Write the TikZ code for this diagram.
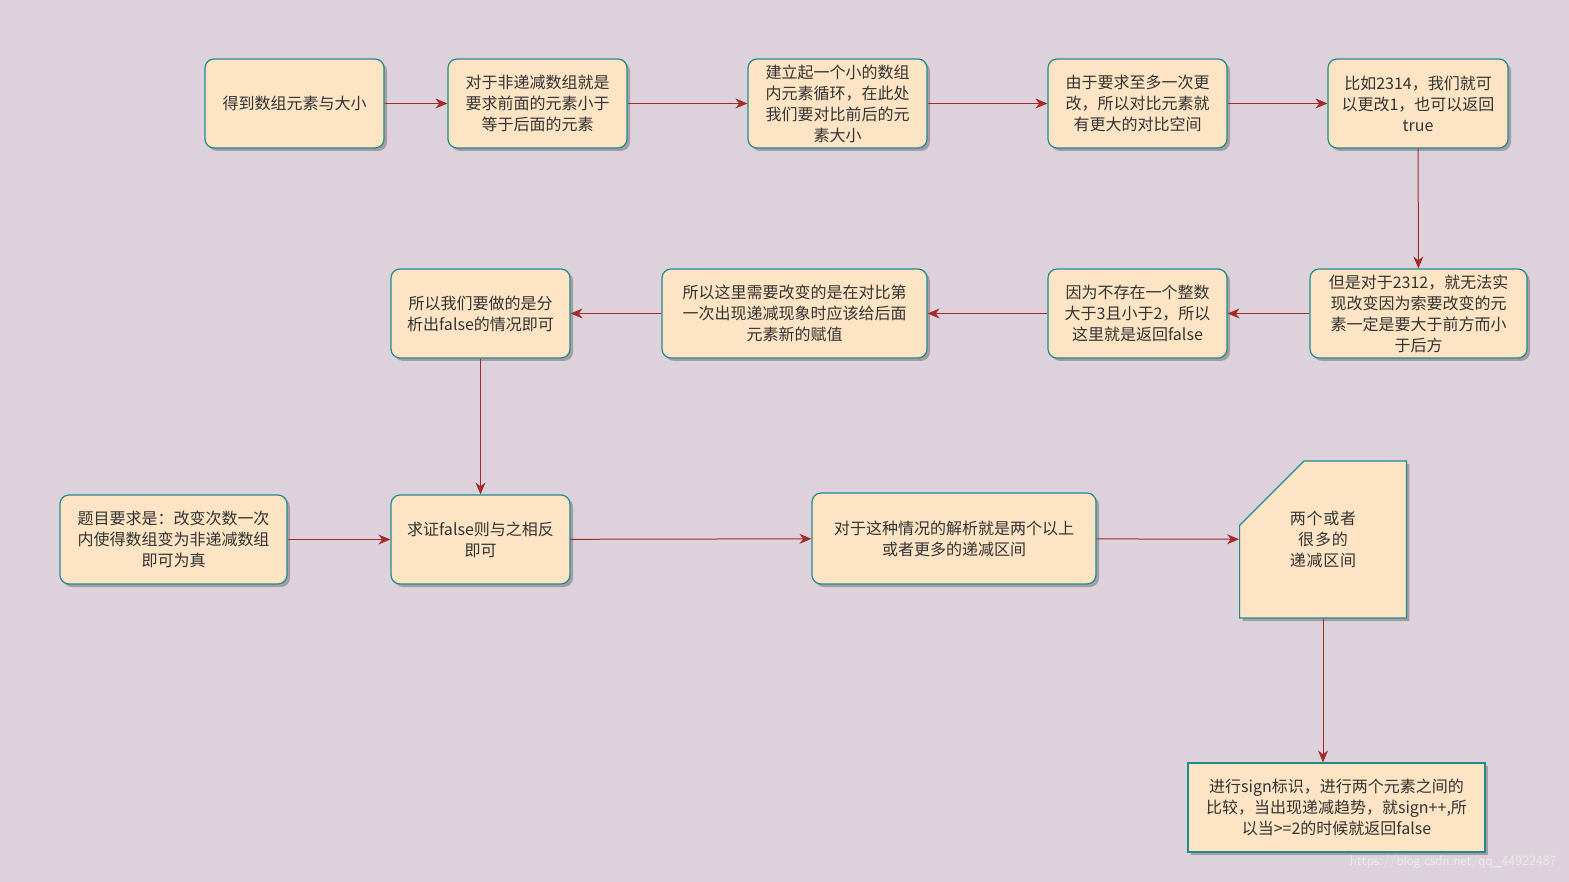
\documentclass[tikz,border=0pt]{standalone}
\usepackage{fontspec}
\newfontfamily\cjk{Noto Sans CJK SC}
\XeTeXlinebreaklocale "zh"
\XeTeXlinebreakskip=0pt plus 1pt
\usetikzlibrary{arrows.meta,shapes.misc,shadows}
\definecolor{bgc}{HTML}{DDD2DC}
\definecolor{fillc}{HTML}{FCE4C4}
\definecolor{edgec}{HTML}{1E8C8C}
\definecolor{arrc}{HTML}{A52A2A}
\definecolor{txtc}{HTML}{333333}
\tikzset{
 box/.style={draw=edgec,line width=1.2pt,fill=fillc,rounded corners=9pt,align=center,
   font=\cjk\fontsize{16}{21}\selectfont,text=txtc,inner sep=2pt,
   drop shadow={shadow xshift=3pt,shadow yshift=-3pt,fill=black,opacity=0.25}},
 arr/.style={draw=arrc,line width=1pt,-{Stealth[length=12pt,width=10pt]}}
}
\begin{document}
\begin{tikzpicture}[x=1pt,y=-1pt]
\fill[bgc] (0,0) rectangle (1569,882);
\useasboundingbox (0,0) rectangle (1569,882);
\node[box,minimum width=179,minimum height=89] (n1) at (294.5,103.5) {得到数组元素与大小};
\node[box,minimum width=179,minimum height=89] (n2) at (537.5,103.5) {对于非递减数组就是\\要求前面的元素小于\\等于后面的元素};
\node[box,minimum width=179,minimum height=89] (n3) at (837.5,103.5) {建立起一个小的数组\\内元素循环，在此处\\我们要对比前后的元\\素大小};
\node[box,minimum width=179,minimum height=89] (n4) at (1137.5,103.5) {由于要求至多一次更\\改，所以对比元素就\\有更大的对比空间};
\node[box,minimum width=180,minimum height=89] (n5) at (1418,103.5) {比如2314，我们就可\\以更改1，也可以返回\\true};
\node[box,minimum width=217,minimum height=89] (n6) at (1418.5,313.5) {但是对于2312，就无法实\\现改变因为索要改变的元\\素一定是要大于前方而小\\于后方};
\node[box,minimum width=179,minimum height=89] (n7) at (1137.5,313.5) {因为不存在一个整数\\大于3且小于2，所以\\这里就是返回false};
\node[box,minimum width=265,minimum height=89] (n8) at (794.5,313.5) {所以这里需要改变的是在对比第\\一次出现递减现象时应该给后面\\元素新的赋值};
\node[box,minimum width=179,minimum height=89] (n9) at (480.5,313.5) {所以我们要做的是分\\析出false的情况即可};
\node[box,minimum width=179,minimum height=89] (n10) at (480.5,539.5) {求证false则与之相反\\即可};
\node[box,minimum width=227,minimum height=89] (n11) at (173.5,539.5) {题目要求是：改变次数一次\\内使得数组变为非递减数组\\即可为真};
\node[box,minimum width=284,minimum height=91] (n12) at (954,538.5) {对于这种情况的解析就是两个以上\\或者更多的递减区间};
\node[box,rounded corners=0pt,chamfered rectangle,chamfered rectangle corners=north west,chamfered rectangle xsep=36pt,chamfered rectangle ysep=36pt,inner sep=0pt,minimum width=144,minimum height=157,text width=110] (n13) at (1323,539.5) {两个或者很多的\\递减区间};
\node[box,rounded corners=0pt,minimum width=297,minimum height=89] (n14) at (1336.5,807.5) {进行sign标识，进行两个元素之间的\\比较，当出现递减趋势，就sign++,所\\以当>=2的时候就返回false};
\node[font=\sffamily\fontsize{14}{16}\selectfont,text=white!85!gray,anchor=east] (wm) at (1560,862) {https://blog.csdn.net/qq\_44922487};
\draw[arr] (n1) -- (n2);
\draw[arr] (n2) -- (n3);
\draw[arr] (n3) -- (n4);
\draw[arr] (n4) -- (n5);
\draw[arr] (n5) -- (n6);
\draw[arr] (n6) -- (n7);
\draw[arr] (n7) -- (n8);
\draw[arr] (n8) -- (n9);
\draw[arr] (n9) -- (n10);
\draw[arr] (n11) -- (n10);
\draw[arr] (n10) -- (n12);
\draw[arr] (n12) -- (n13);
\draw[arr] (n13.south) -- (n14.north -| n13.south);
\end{tikzpicture}
\end{document}
